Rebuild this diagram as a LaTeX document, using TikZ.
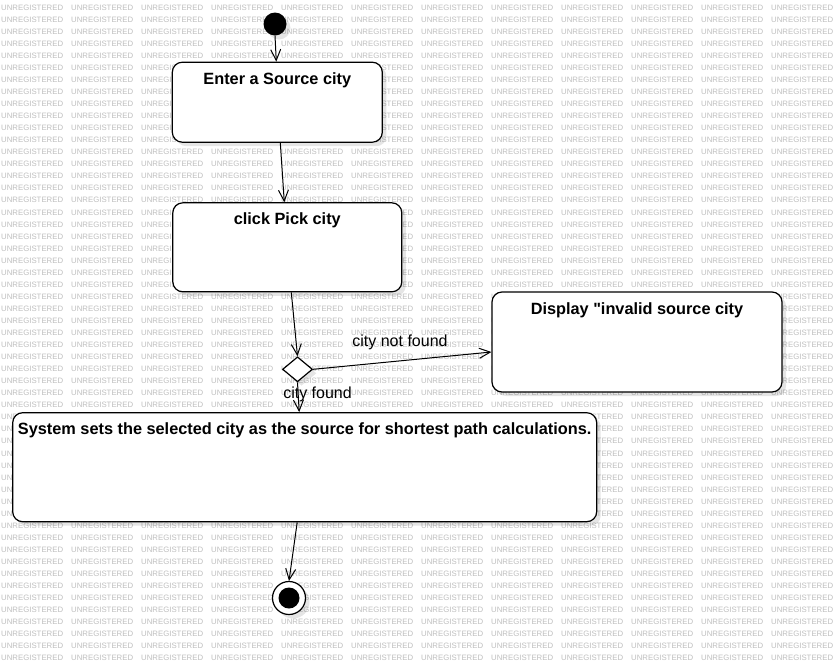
\documentclass[tikz,border=0pt]{standalone}
\usepackage{fontspec}
\setmainfont{Liberation Sans}[Ligatures=TeXOff]
\usetikzlibrary{arrows.meta,shapes.geometric,shadows,calc}
\tikzset{
  wm/.style={anchor=west,inner sep=0pt,text=black!25,font=\fontsize{7.8}{8}\selectfont},
  shad/.style={drop shadow={shadow xshift=4pt,shadow yshift=-4pt,opacity=0.1,fill=black}},
  actbox/.style={draw=black,line width=1.2pt,fill=white,rounded corners=10pt,inner sep=0pt,shad},
  boxtxt/.style={anchor=base,inner sep=0pt,font=\fontsize{16.3}{19}\selectfont\bfseries},
  edgetxt/.style={anchor=base,inner sep=0pt,font=\fontsize{16}{19}\selectfont},
  flow/.style={draw=black,line width=1pt,-{Straight Barb[length=11pt,width=10pt,line width=1pt]}},
  decide/.style={diamond,draw=black,line width=1.2pt,fill=white,minimum width=30pt,minimum height=25pt,inner sep=0pt,shad},
}
\begin{document}
\begin{tikzpicture}[x=1pt,y=-1pt]
\useasboundingbox (0,0) rectangle (833,665);
\fill[white] (0,0) rectangle (833,665);
% watermark
\foreach \r in {0,...,54}{
  \foreach \c in {0,...,11}{
    \node[wm] (wm-\r-\c) at ({1+70*\c},{7.5+12.05*\r}) {UNREGISTERED};
  }
}
% start
\node[circle,fill=black,minimum size=23pt,inner sep=0pt,shad] (start) at (275,24) {};
% boxes
\node[actbox,minimum width=210pt,minimum height=80pt] (b1) at (277.3,102.2) {};
\node[boxtxt] (t1) at ($(b1.north)+(0,22.8)$) {Enter a Source city};
\node[actbox,minimum width=229pt,minimum height=89pt] (b2) at (287.3,247.3) {};
\node[boxtxt] (t2) at ($(b2.north)+(0,22.5)$) {click Pick city};
\node[decide] (d) at (297.5,369.3) {};
\node[actbox,minimum width=290pt,minimum height=100pt] (b3) at (637,342) {};
\node[boxtxt] (t3) at ($(b3.north)+(0,23)$) {Display "invalid source city};
\node[actbox,minimum width=584pt,minimum height=109pt] (b4) at (304.7,467.2) {};
\node[boxtxt] (t4) at ($(b4.north)+(0,22)$) {System sets the selected city as the source for shortest path calculations.};
% final
\node[circle,draw=black,line width=1.2pt,fill=white,minimum size=33pt,inner sep=0pt,shad] (fin) at (289,598) {};
\node[circle,fill=black,minimum size=21pt,inner sep=0pt] (fincore) at (fin.center) {};
% edges
\draw[flow] (start.south) -- ($(b1.north)+(-1,0)$);
\draw[flow] ($(b1.south)+(3,0)$) -- ($(b2.north)+(-3,0)$);
\draw[flow] ($(b2.south)+(4,0)$) -- (d.north);
\draw[flow] (d.east) -- ($(b3.west)+(0,10)$);
\draw[flow] (d.south) -- ($(b4.north)+(-5.5,0)$);
\draw[flow] ($(b4.south)+(-7.5,0)$) -- (fin.north);
\node[edgetxt] (l1) at (400,346) {city not found};
\node[edgetxt] (l2) at (317.5,398.5) {city found};
\end{tikzpicture}
\end{document}
